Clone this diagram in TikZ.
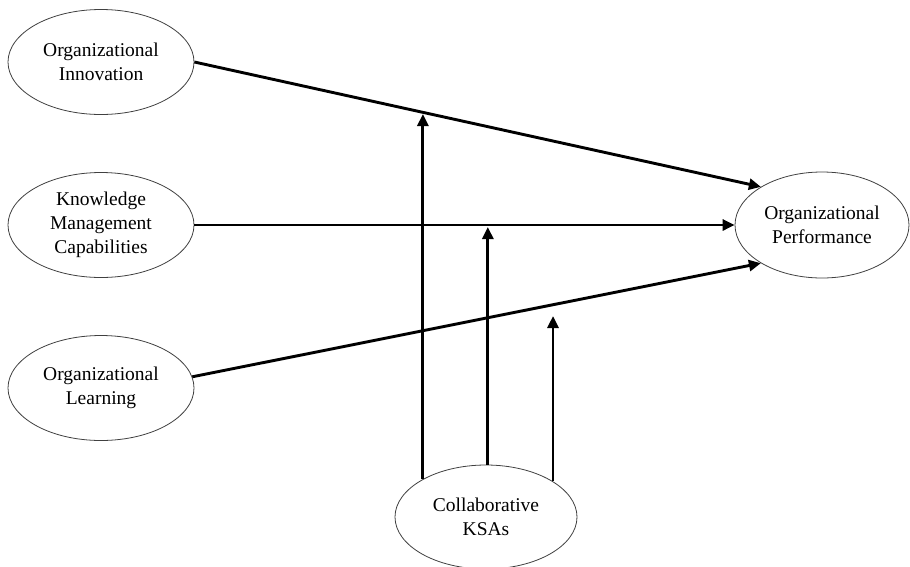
\documentclass[tikz,border=0pt]{standalone}
\usepackage{fontspec}
\setmainfont{Liberation Serif}
\usetikzlibrary{shapes.geometric,arrows.meta}
\begin{document}
\begin{tikzpicture}[x=1pt,y=-1pt,
  construct/.style={ellipse,draw=black!75,line width=0.8pt,minimum width=186pt,minimum height=105pt,
    align=center,inner sep=0pt,font=\fontsize{19.5}{24}\selectfont},
  arr/.style={line width=2.9pt,-{Triangle[length=12pt,width=11pt]}}]
\useasboundingbox (0,0) rectangle (910,566);
\node[construct] (oi) at (101,62) {Organizational\\Innovation};
\node[construct] (km) at (101,225) {Knowledge\\Management\\Capabilities};
\node[construct] (ol) at (101,388) {Organizational\\Learning};
\node[construct,minimum width=174pt,minimum height=106pt] (op) at (822,225) {Organizational\\Performance};
\node[construct,minimum width=182pt,minimum height=104pt] (ksa) at (486,517) {Collaborative\\KSAs};
\draw[arr] (oi.east) -- (op.148.5);
\draw[arr] (km.east) -- (op.west);
\draw[arr] (ol.7) -- (op.212);
\coordinate (t1) at (423,114);
\coordinate (t2) at (488,227);
\coordinate (t3) at (553,316);
\draw[arr] (ksa.149) -- (ksa.149 |- t1);
\draw[arr] (ksa.88) -- (ksa.88 |- t2);
\draw[arr] (ksa.28) -- (ksa.28 |- t3);
\end{tikzpicture}
\end{document}
